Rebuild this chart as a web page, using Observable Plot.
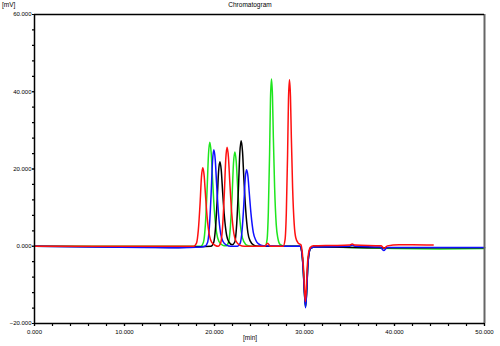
<!DOCTYPE html>
<html>
<head>
<meta charset="utf-8">
<script src="https://cdn.jsdelivr.net/npm/d3@7"></script>
<script src="https://cdn.jsdelivr.net/npm/@observablehq/plot@0.6"></script>
<style>
  body { margin: 0; background: #fff; }
  #wrap { position: relative; width: 500px; height: 346px; font-family: "Liberation Sans", Arial, sans-serif; }
  .lbl { position: absolute; font-size: 6.5px; color: #000; white-space: nowrap; line-height: 1; }
</style>
</head>
<body>
<div id="wrap">
  <div class="lbl" id="title" style="left:0;width:500px;text-align:center;top:2px;">Chromatogram</div>
  <div class="lbl" style="left:2px;top:2px;">[mV]</div>
  <div class="lbl" style="left:243px;top:335px;">[min]</div>
</div>
<script>
// Time (min) and signal (mV), one pair of arrays per trace
const greenT = [0, 5, 10, 15, 18.48, 18.78, 18.98, 19.18, 19.33, 19.48, 19.63, 19.78, 19.98, 20.23, 20.48, 20.88, 21.26, 21.56, 21.76, 21.96, 22.11, 22.26, 22.41, 22.56, 22.76, 23.01, 23.26, 23.66, 24.2, 25.63, 25.84, 25.98, 26.12, 26.22, 26.33, 26.44, 26.54, 26.68, 26.86, 27.03, 27.31, 27.8, 29.5, 29.7, 29.85, 30.0, 30.12, 30.25, 30.35, 30.5, 30.7, 31.2, 35, 40, 45, 50];
const greenV = [0, 0, 0, 0, 0, 1.1, 5.4, 14.8, 23.7, 26.9, 24.2, 17.5, 9.4, 3.5, 1.3, 0.3, 0.1, 1.0, 4.9, 13.4, 21.5, 24.4, 22.0, 15.9, 8.5, 3.2, 1.2, 0.2, 0, 0, 1.7, 8.7, 23.8, 38.1, 43.3, 39.0, 28.1, 15.2, 5.6, 2.2, 0.4, 0, 0, -1.5, -5.5, -12, -15.8, -11, -5.5, -1.8, -0.4, -0.2, -0.3, -0.6, -0.7, -0.6];

const blackT = [0, 10, 16, 19.6, 19.9, 20.1, 20.3, 20.45, 20.6, 20.75, 20.9, 21.1, 21.35, 21.6, 21.96, 22.26, 22.46, 22.66, 22.81, 22.96, 23.11, 23.26, 23.46, 23.71, 23.96, 24.36, 24.8, 29.5, 29.7, 29.85, 30.0, 30.12, 30.25, 30.35, 30.5, 30.7, 31.2, 40, 50];
const blackV = [0, -0.2, -0.3, 0, 0.9, 4.4, 12.0, 19.3, 21.9, 19.7, 14.2, 7.7, 2.8, 1.1, 0.4, 1.1, 5.5, 15.0, 24.0, 27.3, 24.6, 17.7, 9.6, 3.5, 1.4, 0.3, 0, 0, -1.5, -5.6, -12.2, -15.5, -11.2, -5.8, -1.9, -0.5, -0.2, -0.4, -0.4];

const blueT = [0, 7, 12, 16, 18.5, 18.93, 19.23, 19.43, 19.63, 19.78, 19.93, 20.08, 20.23, 20.43, 20.68, 20.93, 21.33, 21.8, 22.56, 22.86, 23.06, 23.26, 23.41, 23.56, 23.71, 23.86, 24.06, 24.31, 24.6, 24.9, 25.4, 27, 29.5, 29.7, 29.85, 30.0, 30.12, 30.25, 30.35, 30.5, 30.7, 31.2, 35, 35.3, 35.6, 38.4, 38.8, 39.2, 40, 45, 50];
const blueV = [0, -0.2, -0.3, -0.4, -0.2, 0, 1.0, 5.0, 13.8, 22.0, 25.0, 22.5, 16.3, 8.8, 3.3, 1.3, 0.3, 0, 0, 0.8, 4.0, 10.9, 17.4, 19.8, 18.2, 13.9, 8.3, 3.6, 1.5, 0.6, 0.1, 0, 0, -1.5, -5.8, -12.5, -15.9, -11.5, -6, -2, -0.5, -0.2, 0, 0.3, 0, -0.2, -1.1, -0.3, -0.3, -0.3, -0.3];

const redT = [0, 5, 10, 15, 17.7, 18.0, 18.2, 18.4, 18.55, 18.7, 18.85, 19.0, 19.2, 19.45, 19.7, 20.1, 20.4, 20.7, 20.9, 21.1, 21.25, 21.4, 21.55, 21.7, 21.9, 22.15, 22.4, 22.8, 23.3, 25.6, 25.9, 26.2, 27.63, 27.84, 27.98, 28.12, 28.22, 28.33, 28.44, 28.54, 28.68, 28.86, 29.03, 29.3, 29.6, 29.75, 29.9, 30.0, 30.1, 30.2, 30.3, 30.45, 30.65, 31.0, 33, 35, 35.3, 35.6, 38.5, 38.85, 39.2, 40.5, 42, 44.3];
const redV = [0, 0, 0, 0, 0, 0.8, 4.1, 11.2, 17.9, 20.3, 18.3, 13.2, 7.1, 2.6, 1.0, 0.2, 0, 1.0, 5.1, 14.1, 22.5, 25.6, 23.0, 16.6, 9.0, 3.3, 1.3, 0.3, 0, 0, 0.8, 0, 0, 1.7, 8.6, 23.7, 37.9, 43.1, 38.8, 28.0, 15.1, 5.6, 2.2, 0.8, 0.4, -1.5, -6, -11, -14.3, -11, -5.5, -1.8, -0.3, 0.1, 0.2, 0.3, 0.6, 0.3, 0.1, -0.5, 0.1, 0.4, 0.4, 0.3];

const traces = [
  {name: "green", color: "#1ee61e", t: greenT, v: greenV},
  {name: "black", color: "#000000", t: blackT, v: blackV},
  {name: "blue", color: "#1010ff", t: blueT, v: blueV},
  {name: "red", color: "#ff1010", t: redT, v: redV}
];

const xMajor = [0, 10, 20, 30, 40, 50];
const xMinor = d3.range(0, 51, 2);
const yMajor = [-20, 0, 20, 40, 60];
const yMinor = d3.range(-20, 61, 4);

const fmt = d3.format(".3f");

const lineMarks = traces.map(tr =>
  Plot.line(d3.zip(tr.t, tr.v), {x: d => d[0], y: d => d[1], stroke: tr.color, strokeWidth: 1.5, curve: "monotone-x"})
);

const chart = Plot.plot({
  width: 500,
  height: 346,
  marginLeft: 34,
  marginRight: 16,
  marginTop: 14,
  marginBottom: 23,
  style: {fontFamily: "Liberation Sans, Arial, sans-serif", fontSize: "6px", background: "#fff", color: "#000"},
  x: {domain: [0, 50]},
  y: {domain: [-20, 60]},
  marks: [
    Plot.axisX(xMinor, {tickSize: 3, tickFormat: () => "", label: null, strokeWidth: 1.2}),
    Plot.axisX(xMajor, {tickSize: 3, tickPadding: 3, tickFormat: fmt, label: null, strokeWidth: 1.2}),
    Plot.axisY(yMinor, {tickSize: 2, tickFormat: () => "", label: null, strokeWidth: 1.2}),
    Plot.axisY(yMajor, {tickSize: 2, tickPadding: 1, tickFormat: fmt, label: null, strokeWidth: 1.2}),
    ...lineMarks,
    Plot.ruleX([50], {stroke: "#666", strokeWidth: 2}),
    Plot.ruleY([60], {stroke: "#000", strokeWidth: 1.5}),
    Plot.ruleY([-20], {stroke: "#000", strokeWidth: 1.5}),
    Plot.ruleX([0], {stroke: "#000", strokeWidth: 1.5})
  ]
});
document.getElementById("wrap").prepend(chart);
chart.style.position = "absolute";
chart.style.left = "0";
chart.style.top = "0";
</script>
</body>
</html>
